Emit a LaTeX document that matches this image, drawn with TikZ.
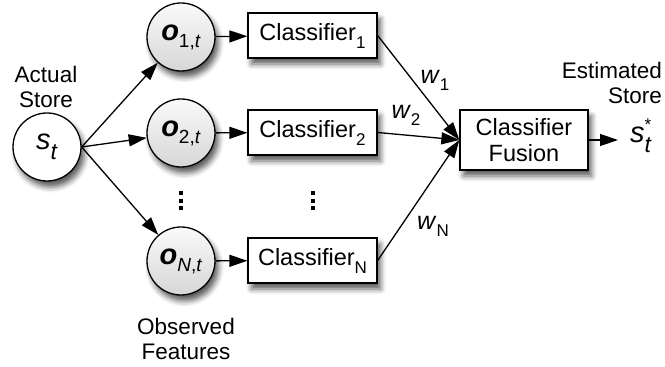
\documentclass[tikz,border=0pt]{standalone}
\usepackage{fontspec}
\setmainfont{Liberation Sans}
\usetikzlibrary{arrows.meta,shadows.blur,calc}

% lowered / raised small text for indices
\newcommand{\lowsub}[2][8pt]{\raisebox{-#1}{\fontsize{17}{17}\selectfont #2}}
\newcommand{\bigsym}[1]{{\fontsize{29}{29}\selectfont #1}}

\tikzset{
  txt/.style={font=\fontsize{22.5}{25}\selectfont, inner sep=0pt, align=center},
  shad/.style={blur shadow={shadow xshift=3.5pt, shadow yshift=-6pt,
               shadow blur radius=5.5pt, shadow opacity=65}},
  state/.style={circle, draw, line width=1.3pt, minimum size=68pt,
                inner sep=0pt, fill=white, shad},
  feat/.style={state, top color=gray!4, bottom color=gray!32},
  clf/.style={rectangle, draw, line width=1.3pt, fill=white, shad,
              minimum width=129pt, minimum height=45pt, inner sep=0pt,
              font=\fontsize{23.5}{26}\selectfont},
  fusion/.style={clf, minimum width=128pt, minimum height=60pt, align=center},
  arr/.style={line width=1.3pt, -{Triangle[length=18pt,width=12pt]}},
  dotmark/.style={fill=black},
}

\begin{document}
\begin{tikzpicture}[x=1pt,y=1pt]
  \useasboundingbox (0,0) rectangle (665,367);

  % true store
  \node[state] (st) at (47,220)
    {\bigsym{\textit{s}}\lowsub[10pt]{\fontsize{23}{23}\selectfont\textit{t}}};
  \node[txt] (actual) at (46,280) {Actual\\Store};

  % observed feature nodes
  \node[feat] (o1) at (181,330)
    {\bigsym{\textbf{\textit{o}}}\lowsub[7pt]{\fontsize{19}{19}\selectfont 1,\textit{t}}};
  \node[feat] (o2) at (181,234)
    {\bigsym{\textbf{\textit{o}}}\lowsub[7pt]{\fontsize{19}{19}\selectfont 2,\textit{t}}};
  \node[feat] (oN) at (181,106)
    {\bigsym{\textbf{\textit{o}}}\lowsub[7pt]{\fontsize{19}{19}\selectfont\textit{N},\textit{t}}};
  \node[txt] (obs) at (186,28) {Observed\\Features};

  % classifiers
  \node[clf] (c1) at (312.5,331.5) {Classifier\lowsub{1}};
  \node[clf] (c2) at (312.5,234.5) {Classifier\lowsub{2}};
  \node[clf] (cN) at (312.5,106.5) {Classifier\lowsub{N}};

  % fusion and estimate
  \node[fusion] (fus) at (524,227) {Classifier\\Fusion};
  \node[txt, align=right, anchor=east] (est) at (662,284) {Estimated\\Store};
  \node[txt, anchor=west] (sst) at (630,231)
    {\bigsym{\textit{s}}\makebox[0pt][l]{\raisebox{12pt}{\fontsize{17}{17}\selectfont *}}\lowsub[10pt]{\fontsize{23}{23}\selectfont\textit{t}}};
  \coordinate (sstin) at (618,227);

  % vertical ellipses
  \coordinate (d1) at (181,166);
  \coordinate (d2) at (313,166);
  \foreach \c in {d1,d2}
    \foreach \k in {-1,0,1}
      \fill[dotmark] ($(\c)+(-2,\k*7.5-2)$) rectangle +(4.2,4.2);

  % connectors
  \foreach \o in {o1,o2,oN} \draw[arr] (st.east) -- (\o);
  \draw[arr] (o1) -- (c1);
  \draw[arr] (o2) -- (c2);
  \draw[arr] (oN) -- (cN);
  \foreach \c in {c1,c2,cN} \draw[arr] (\c.east) -- (fus.west);
  \draw[arr] (fus.east) -- (sstin);

  % weights
  \node[txt] (w1) at (435,287) {{\fontsize{25}{25}\selectfont\textit{w}}\lowsub[7pt]{1}};
  \node[txt] (w2) at (406,252) {{\fontsize{25}{25}\selectfont\textit{w}}\lowsub[7pt]{2}};
  \node[txt] (wN) at (433,141) {{\fontsize{25}{25}\selectfont\textit{w}}\lowsub[7pt]{N}};
\end{tikzpicture}
\end{document}
